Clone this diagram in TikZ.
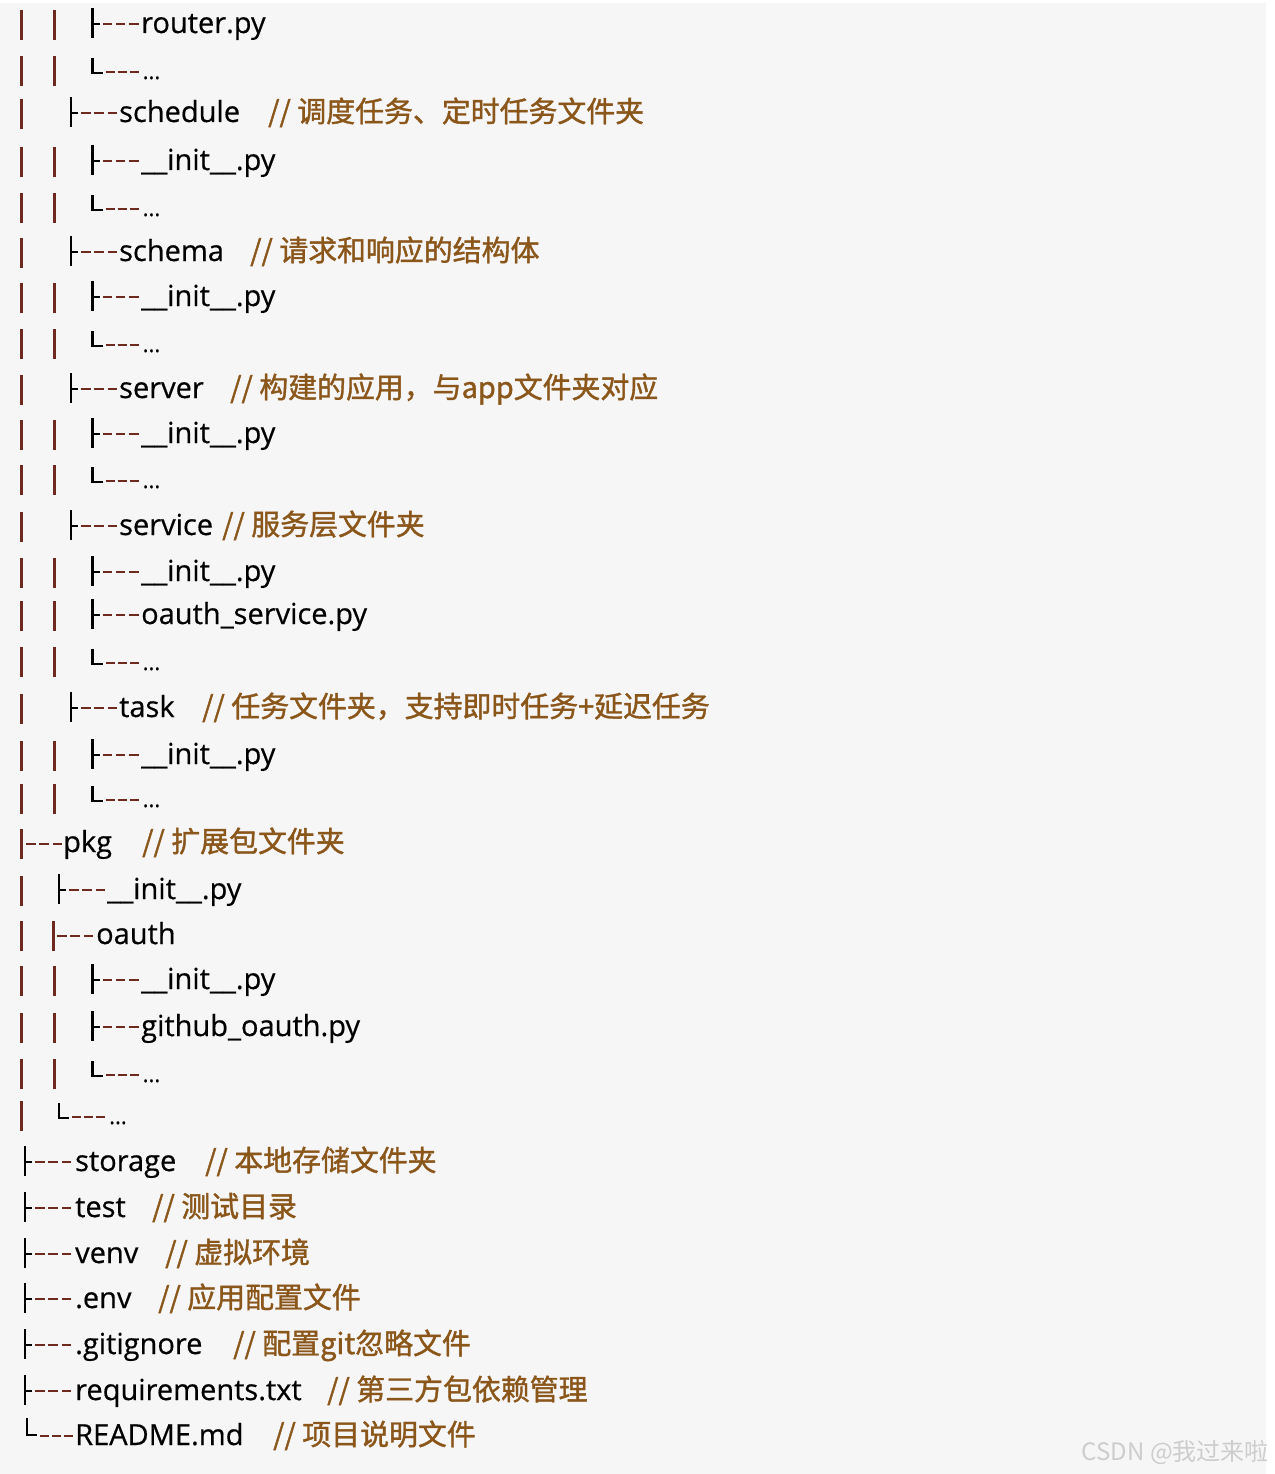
\documentclass[tikz,border=0pt]{standalone}
\usepackage{fontspec}
\setmainfont[RawFeature={embolden=0.5}]{Open Sans}
\newfontfamily\cjk[RawFeature={embolden=1.3}]{Noto Sans CJK SC}
\newfontfamily\cjkwm{Noto Sans CJK SC}
\definecolor{bgray}{HTML}{F6F6F6}
\definecolor{barred}{HTML}{6E2A1E}
\definecolor{cmtbrown}{HTML}{8A561A}
\definecolor{wmgray}{HTML}{CDCDCD}
\newcommand\namefont{\fontsize{29}{34}\selectfont}
\newcommand\cmtfont{\cjk\fontsize{28.9}{34}\selectfont}
\tikzset{
  redbar/.style={draw=barred, line width=3pt},
  glyph/.style={draw=black, line width=2.4pt},
  dashline/.style={draw=barred, line width=2.2pt, dash pattern=on 9.5pt off 3.75pt},
  fname/.style={anchor=base west, inner sep=0pt, font=\namefont, text=black},
  cmttext/.style={anchor=base west, inner sep=0pt, font=\cmtfont, text=cmtbrown},
  ddots/.style={anchor=base west, inner sep=0pt, font=\fontsize{22}{26}\selectfont, text=black},
}
% bar at x, baseline b
\newcommand\barat[2]{\draw[redbar] (#1,#2-23) -- (#1,#2+7);}
\newcommand\twobars[1]{\barat{21}{#1}\barat{54}{#1}}
% tee glyph at x, baseline b
\newcommand\teeat[2]{\draw[glyph] (#1,#2-25) -- (#1,#2+5) (#1,#2-9) -- (#1+7,#2-9);
  \draw[dashline] (#1+10,#2-9) -- (#1+46,#2-9);}
% ell glyph with dots: x, baseline, node name
\newcommand\ellat[3]{\draw[glyph] (#1,#2-21) -- (#1,#2-6) -- (#1+10,#2-6);
  \draw[dashline, dash pattern=on 9pt off 3pt] (#1+13,#2-7) -- (#1+46,#2-7);
  \node[ddots] (#3) at (#1+50,#2) {...};}
\begin{document}
\begin{tikzpicture}[x=1pt,y=-1pt]
\useasboundingbox (0,0) rectangle (1274,1474);
\fill[white] (0,0) rectangle (1274,1474);
\fill[bgray] (0,3) rectangle (1266,1474);

% row 1
\twobars{33}\teeat{92.5}{33}
\node[fname] (n1) at (141,33) {router.py};
% row 2
\twobars{79}\ellat{92.5}{79}{d2}
% row 3
\barat{21}{122}\teeat{71}{122}
\node[fname] (n3) at (119,122) {schedule};
\node[cmttext] (c3) at (268,122) {// 调度任务、定时任务文件夹};
% row 4-5
\twobars{170}\teeat{92.5}{170}
\node[fname] (n4) at (141,170) {\_\_init\_\_.py};
\twobars{216}\ellat{92.5}{216}{d5}
% row 6
\barat{21}{261}\teeat{71}{261}
\node[fname] (n6) at (119,261) {schema};
\node[cmttext] (c6) at (250,261) {// 请求和响应的结构体};
% row 7-8
\twobars{306}\teeat{92.5}{306}
\node[fname] (n7) at (141,306) {\_\_init\_\_.py};
\twobars{352}\ellat{92.5}{352}{d8}
% row 9
\barat{21}{398}\teeat{71}{398}
\node[fname] (n9) at (119,398) {server};
\node[cmttext] (c9) at (230,398) {// 构建的应用，与app文件夹对应};
% row 10-11
\twobars{443}\teeat{92.5}{443}
\node[fname] (n10) at (141,443) {\_\_init\_\_.py};
\twobars{488}\ellat{92.5}{488}{d11}
% row 12
\barat{21}{535}\teeat{71}{535}
\node[fname] (n12) at (119,535) {service};
\node[cmttext] (c12) at (222,535) {// 服务层文件夹};
% row 13-15
\twobars{581}\teeat{92.5}{581}
\node[fname] (n13) at (141,581) {\_\_init\_\_.py};
\twobars{624}\teeat{92.5}{624}
\node[fname] (n14) at (141,624) {oauth\_service.py};
\twobars{670}\ellat{92.5}{670}{d15}
% row 16
\barat{21}{717}\teeat{71}{717}
\node[fname] (n16) at (119,717) {task};
\node[cmttext] (c16) at (202,717) {// 任务文件夹，支持即时任务+延迟任务};
% row 17-18
\twobars{764}\teeat{92.5}{764}
\node[fname] (n17) at (141,764) {\_\_init\_\_.py};
\twobars{807}\ellat{92.5}{807}{d18}
% row 19 pkg
\barat{21}{852}
\draw[dashline] (26,852-8) -- (62,852-8);
\node[fname] (n19) at (63,852) {pkg};
\node[cmttext] (c19) at (142,852) {// 扩展包文件夹};
% row 20
\barat{21}{899}\teeat{59}{899}
\node[fname] (n20) at (107,899) {\_\_init\_\_.py};
% row 21
\barat{21}{944}\barat{53}{944}
\draw[dashline] (57,944-8) -- (94,944-8);
\node[fname] (n21) at (96,944) {oauth};
% row 22-24
\twobars{989}\teeat{92.5}{989}
\node[fname] (n22) at (141,989) {\_\_init\_\_.py};
\twobars{1036}\teeat{92.5}{1036}
\node[fname] (n23) at (141,1036) {github\_oauth.py};
\twobars{1082}\ellat{92.5}{1082}{d24}
% row 25
\barat{21}{1124}\ellat{59}{1124}{d25}
% bottom rows
\teeat{25}{1171}
\node[fname] (n26) at (75,1171) {storage};
\node[cmttext] (c26) at (205,1171) {// 本地存储文件夹};
\teeat{25}{1217}
\node[fname] (n27) at (75,1217) {test};
\node[cmttext] (c27) at (152,1217) {// 测试目录};
\teeat{25}{1263}
\node[fname] (n28) at (75,1263) {venv};
\node[cmttext] (c28) at (165,1263) {// 虚拟环境};
\teeat{25}{1308}
\node[fname] (n29) at (75,1308) {.env};
\node[cmttext] (c29) at (158,1308) {// 应用配置文件};
\teeat{25}{1354}
\node[fname] (n30) at (75,1354) {.gitignore};
\node[cmttext] (c30) at (233,1354) {// 配置git忽略文件};
\teeat{25}{1400}
\node[fname] (n31) at (75,1400) {requirements.txt};
\node[cmttext] (c31) at (327,1400) {// 第三方包依赖管理};
% last row
\draw[glyph] (27,1445-27) -- (27,1445-10) -- (37,1445-10);
\draw[dashline, dash pattern=on 9pt off 3pt] (40,1445-9) -- (73,1445-9);
\node[fname] (n32) at (75,1445) {README.md};
\node[cmttext] (c32) at (273,1445) {// 项目说明文件};
% watermark
\node[anchor=base east, inner sep=0pt, font=\cjkwm\fontsize{24}{27}\selectfont, text=wmgray] (wm) at (1269,1460) {CSDN @我过来啦};
\end{tikzpicture}
\end{document}
